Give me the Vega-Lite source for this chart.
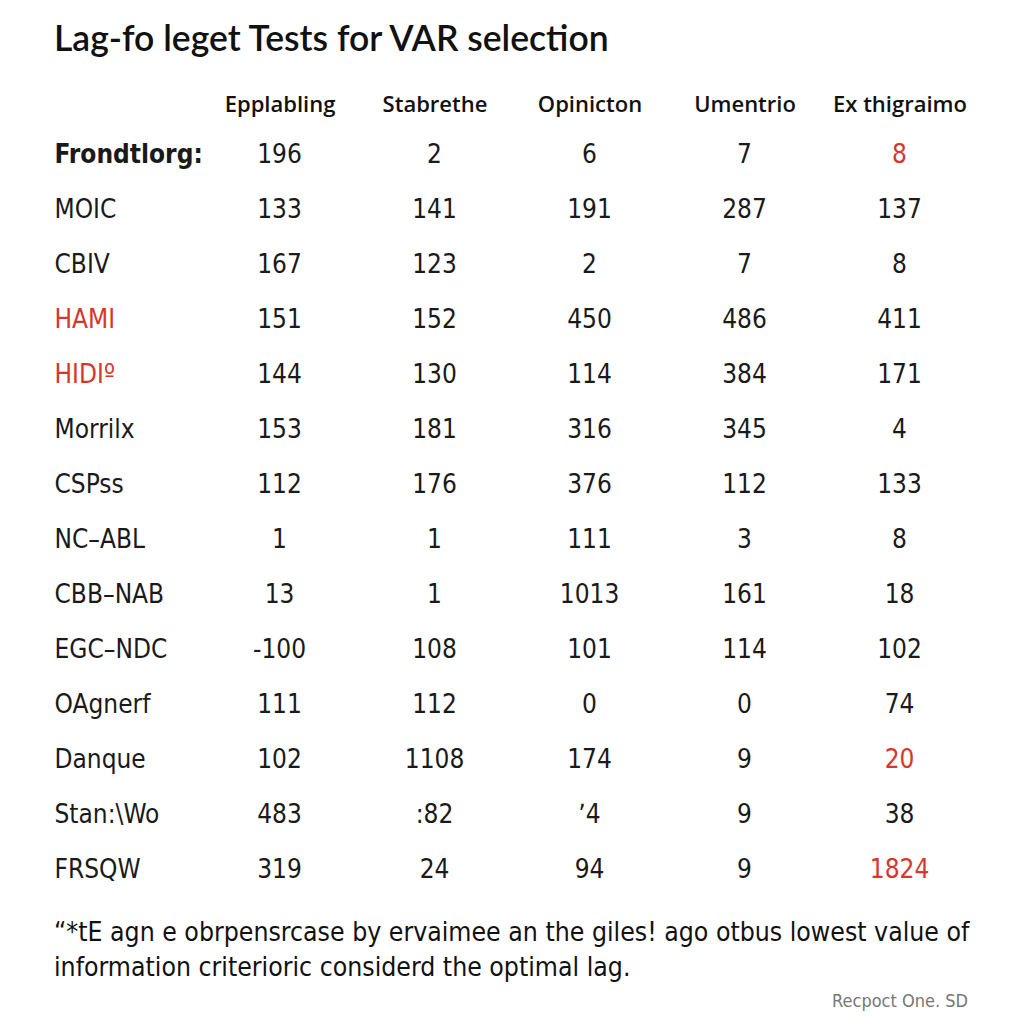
{
  "$schema": "https://vega.github.io/schema/vega-lite/v6.json",
  "padding": {"top": 22, "left": 54, "right": 10, "bottom": 5},
  "background": "white",
  "config": {"view": {"stroke": null}, "concat": {"spacing": 0}},
  "title": {"text": "Lag-fo leget Tests for VAR selection", "anchor": "start", "frame": "bounds", "font": "Lato", "fontSize": 35.5, "fontWeight": 600, "color": "#111111", "offset": 35},
  "vconcat": [
    {
      "title": {"text": "Recpoct One. SD", "orient": "bottom", "anchor": "end", "frame": "bounds", "font": "DejaVu Sans Condensed, sans-serif", "fontSize": 18, "fontWeight": "normal", "color": "#777777", "offset": 12, "dx": -9},
      "vconcat": [
        {
          "width": 775,
          "height": 770,
          "title": {
            "text": ["\u201c*tE agn e obrpensrcase by ervaimee an the giles! ago otbus lowest value of", "information criterioric considerd the optimal lag."],
            "orient": "bottom", "anchor": "start", "frame": "bounds",
            "font": "DejaVu Sans Condensed, sans-serif", "fontSize": 26.4, "fontWeight": "normal", "color": "#111111", "lineHeight": 35, "offset": 23, "limit": 0
          },
          "data": {
            "values": [
              {"variable": "Frondtlorg:", "test": "Epplabling", "value": 196},
              {"variable": "Frondtlorg:", "test": "Stabrethe", "value": 2},
              {"variable": "Frondtlorg:", "test": "Opinicton", "value": 6},
              {"variable": "Frondtlorg:", "test": "Umentrio", "value": 7},
              {"variable": "Frondtlorg:", "test": "Ex thigraimo", "value": 8},
              {"variable": "MOIC", "test": "Epplabling", "value": 133},
              {"variable": "MOIC", "test": "Stabrethe", "value": 141},
              {"variable": "MOIC", "test": "Opinicton", "value": 191},
              {"variable": "MOIC", "test": "Umentrio", "value": 287},
              {"variable": "MOIC", "test": "Ex thigraimo", "value": 137},
              {"variable": "CBIV", "test": "Epplabling", "value": 167},
              {"variable": "CBIV", "test": "Stabrethe", "value": 123},
              {"variable": "CBIV", "test": "Opinicton", "value": 2},
              {"variable": "CBIV", "test": "Umentrio", "value": 7},
              {"variable": "CBIV", "test": "Ex thigraimo", "value": 8},
              {"variable": "HAMI", "test": "Epplabling", "value": 151},
              {"variable": "HAMI", "test": "Stabrethe", "value": 152},
              {"variable": "HAMI", "test": "Opinicton", "value": 450},
              {"variable": "HAMI", "test": "Umentrio", "value": 486},
              {"variable": "HAMI", "test": "Ex thigraimo", "value": 411},
              {"variable": "HIDIº", "test": "Epplabling", "value": 144},
              {"variable": "HIDIº", "test": "Stabrethe", "value": 130},
              {"variable": "HIDIº", "test": "Opinicton", "value": 114},
              {"variable": "HIDIº", "test": "Umentrio", "value": 384},
              {"variable": "HIDIº", "test": "Ex thigraimo", "value": 171},
              {"variable": "Morrilx", "test": "Epplabling", "value": 153},
              {"variable": "Morrilx", "test": "Stabrethe", "value": 181},
              {"variable": "Morrilx", "test": "Opinicton", "value": 316},
              {"variable": "Morrilx", "test": "Umentrio", "value": 345},
              {"variable": "Morrilx", "test": "Ex thigraimo", "value": 4},
              {"variable": "CSPss", "test": "Epplabling", "value": 112},
              {"variable": "CSPss", "test": "Stabrethe", "value": 176},
              {"variable": "CSPss", "test": "Opinicton", "value": 376},
              {"variable": "CSPss", "test": "Umentrio", "value": 112},
              {"variable": "CSPss", "test": "Ex thigraimo", "value": 133},
              {"variable": "NC\u2013ABL", "test": "Epplabling", "value": 1},
              {"variable": "NC\u2013ABL", "test": "Stabrethe", "value": 1},
              {"variable": "NC\u2013ABL", "test": "Opinicton", "value": 111},
              {"variable": "NC\u2013ABL", "test": "Umentrio", "value": 3},
              {"variable": "NC\u2013ABL", "test": "Ex thigraimo", "value": 8},
              {"variable": "CBB\u2013NAB", "test": "Epplabling", "value": 13},
              {"variable": "CBB\u2013NAB", "test": "Stabrethe", "value": 1},
              {"variable": "CBB\u2013NAB", "test": "Opinicton", "value": 1013},
              {"variable": "CBB\u2013NAB", "test": "Umentrio", "value": 161},
              {"variable": "CBB\u2013NAB", "test": "Ex thigraimo", "value": 18},
              {"variable": "EGC\u2013NDC", "test": "Epplabling", "value": -100},
              {"variable": "EGC\u2013NDC", "test": "Stabrethe", "value": 108},
              {"variable": "EGC\u2013NDC", "test": "Opinicton", "value": 101},
              {"variable": "EGC\u2013NDC", "test": "Umentrio", "value": 114},
              {"variable": "EGC\u2013NDC", "test": "Ex thigraimo", "value": 102},
              {"variable": "OAgnerf", "test": "Epplabling", "value": 111},
              {"variable": "OAgnerf", "test": "Stabrethe", "value": 112},
              {"variable": "OAgnerf", "test": "Opinicton", "value": 0},
              {"variable": "OAgnerf", "test": "Umentrio", "value": 0},
              {"variable": "OAgnerf", "test": "Ex thigraimo", "value": 74},
              {"variable": "Danque", "test": "Epplabling", "value": 102},
              {"variable": "Danque", "test": "Stabrethe", "value": 1108},
              {"variable": "Danque", "test": "Opinicton", "value": 174},
              {"variable": "Danque", "test": "Umentrio", "value": 9},
              {"variable": "Danque", "test": "Ex thigraimo", "value": 20},
              {"variable": "Stan:\\Wo", "test": "Epplabling", "value": 483},
              {"variable": "Stan:\\Wo", "test": "Stabrethe", "value": ":82"},
              {"variable": "Stan:\\Wo", "test": "Opinicton", "value": "\u02bc4"},
              {"variable": "Stan:\\Wo", "test": "Umentrio", "value": 9},
              {"variable": "Stan:\\Wo", "test": "Ex thigraimo", "value": 38},
              {"variable": "FRSQW", "test": "Epplabling", "value": 319},
              {"variable": "FRSQW", "test": "Stabrethe", "value": 24},
              {"variable": "FRSQW", "test": "Opinicton", "value": 94},
              {"variable": "FRSQW", "test": "Umentrio", "value": 9},
              {"variable": "FRSQW", "test": "Ex thigraimo", "value": 1824}
            ]
          },
          "mark": {"type": "text", "font": "DejaVu Sans Condensed, sans-serif", "fontSize": 26, "baseline": "middle", "align": "center"},
          "encoding": {
            "x": {
              "field": "test", "type": "nominal", "sort": null,
              "scale": {"type": "point", "padding": 0.5},
              "axis": {"orient": "top", "title": null, "labelAngle": 0, "ticks": false, "domain": false, "grid": false,
                "labelFont": "Open Sans", "labelFontWeight": 600, "labelFontSize": 22, "labelColor": "#111111", "labelPadding": 11}
            },
            "y": {
              "field": "variable", "type": "nominal", "sort": null,
              "scale": {"type": "point", "padding": 0.5},
              "axis": {"orient": "left", "title": null, "ticks": false, "domain": false, "grid": false,
                "labelAlign": "left", "labelBaseline": "middle", "labelPadding": 148, "labelLimit": 220,
                "labelFont": "DejaVu Sans Condensed, sans-serif", "labelFontSize": 26,
                "labelColor": {"condition": {"test": "datum.value === 'HAMI' || datum.value === 'HIDIº'", "value": "#d7372b"}, "value": "#1a1a1a"},
                "labelFontWeight": {"condition": {"test": "datum.value === 'Frondtlorg:'", "value": "bold"}, "value": "normal"}}
            },
            "text": {"field": "value", "type": "nominal"},
            "color": {
              "condition": {"test": "datum.test === 'Ex thigraimo' && (datum.variable === 'Frondtlorg:' || datum.variable === 'Danque' || datum.variable === 'FRSQW')", "value": "#d7372b"},
              "value": "#1a1a1a"
            }
          }
        }
      ]
    }
  ]
}
